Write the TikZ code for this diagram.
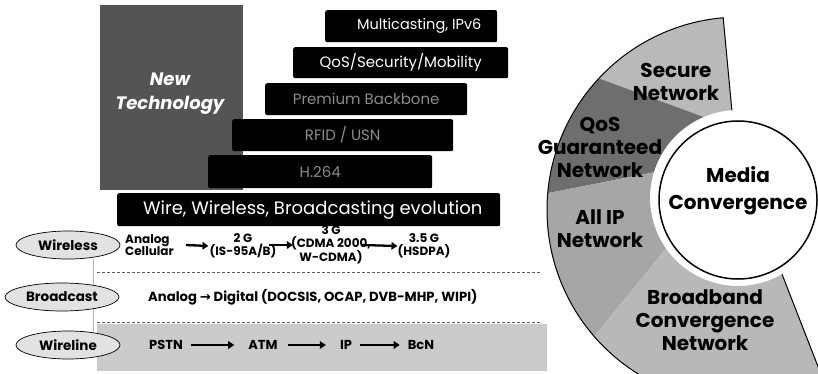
\documentclass[tikz,border=0pt]{standalone}
\usepackage{fontspec}
\setmainfont{Poppins}
\newfontfamily\arrowfont{DejaVu Sans}
\usetikzlibrary{arrows.meta,calc,shapes.geometric}

\definecolor{techgray}{HTML}{545454}
\definecolor{fadedgray}{HTML}{8C8C8C}
\definecolor{secgray}{HTML}{B9B9B9}
\definecolor{qosgray}{HTML}{6E6E6E}
\definecolor{ipgray}{HTML}{A6A6A6}
\definecolor{bcngray}{HTML}{B8B8B8}
\definecolor{bandgray}{HTML}{CBCBCB}
\definecolor{taggray}{HTML}{E2E2E2}

\begin{document}
\begin{tikzpicture}[x=1pt,y=-1pt,
  bar/.style={fill=black, rounded corners=2pt, inner sep=0pt, anchor=north west},
  bartext/.style={text=white, font=\fontsize{14.5}{16}\selectfont},
  fadedtext/.style={text=fadedgray, font=\fontsize{15}{17}\selectfont},
  tag/.style={ellipse, draw=black, line width=0.7pt, fill=taggray, minimum width=104pt,
    minimum height=28pt, inner sep=0pt, font=\bfseries\fontsize{13.5}{15}\selectfont},
  rowtext/.style={font=\bfseries\fontsize{12}{12.5}\selectfont, align=center, inner sep=0pt},
  wltext/.style={font=\bfseries\fontsize{13}{14}\selectfont, inner sep=0pt},
  evo/.style={-{Triangle[length=6pt,width=7.5pt]}, line width=2.3pt},
  sep/.style={draw=gray!70!black, line width=0.7pt, dash pattern=on 3pt off 2pt},
  ringtext/.style={font=\bfseries\fontsize{20}{23}\selectfont, align=center, inner sep=0pt},
  ringedge/.style={draw=black, line width=1pt},
]
\useasboundingbox (0,0) rectangle (818,374);
\clip (0,0) rectangle (818,374);

% ---- new technology block and stacked bars ----
\node[fill=techgray, minimum width=143pt, minimum height=185pt, anchor=north west, inner sep=0pt]
  (tech) at (100,5) {};
\node[text=white, font=\bfseries\itshape\fontsize{18}{24}\selectfont, align=center]
  (techlbl) at (170,94) {New\\Technology};

\node[bar, minimum width=172pt, minimum height=32pt] (mcast) at (325,10) {};
\node[bartext] (mcastlbl) at ([xshift=8pt]mcast.center) {Multicasting, IPv6};
\node[bar, minimum width=215pt, minimum height=31pt] (qos) at (293,47) {};
\node[bartext, font=\fontsize{15}{16}\selectfont] (qoslbl) at (qos.center) {QoS/Security/Mobility};
\node[bar, minimum width=202pt, minimum height=32pt] (prem) at (265,83) {};
\node[fadedtext] (premlbl) at (prem.center) {Premium Backbone};
\node[bar, minimum width=221pt, minimum height=32pt] (rfid) at (232,119) {};
\node[fadedtext] (rfidlbl) at (rfid.center) {RFID / USN};
\node[bar, minimum width=224pt, minimum height=33pt] (h264) at (208,155) {};
\node[fadedtext] (h264lbl) at (h264.center) {H.264};
\node[bar, minimum width=383pt, minimum height=33pt] (wire) at (117,193) {};
\node[bartext, font=\fontsize{18}{20}\selectfont] (wirelbl) at ([xshift=4pt]wire.center) {Wire, Wireless, Broadcasting evolution};

% ---- evolution table ----
\fill[bandgray] (97,324) rectangle (547,371);
\coordinate (sepA1) at (97,272);  \coordinate (sepA2) at (540,272);
\coordinate (sepB1) at (97,322);  \coordinate (sepB2) at (540,322);
\draw[sep] (sepA1) -- (sepA2);
\draw[sep] (sepB1) -- (sepB2);

\node[tag] (wireless) at (68,245) {Wireless};
\node[tag] (wireline) at (68,345) {Wireline};
\draw[gray!60, line width=0.6pt] ([xshift=25pt]wireless.south) -- ([xshift=25pt]wireline.north);
\node[tag, minimum width=114pt] (broadcast) at (62,297) {Broadcast};

% wireless row
\node[rowtext, align=left, anchor=west] (analog) at (125,245) {Analog\\Cellular};
\node[rowtext] (twog) at (243,246) {2 G\\(IS-95A/B)};
\node[rowtext] (threeg) at (331,245) {3 G\\(CDMA 2000,\\W-CDMA)};
\node[rowtext] (threefiveg) at (424,246) {3.5 G\\(HSDPA)};
\draw[evo] ([xshift=12pt]analog.east) -- ([xshift=-1pt]twog.west);
\draw[evo] ([xshift=-8pt]twog.east |- threeg.west) -- ([xshift=2pt]threeg.west);
\draw[evo] ([xshift=-10pt]threeg.east) -- (threefiveg.west);

% broadcast row
\node[rowtext, anchor=west, font=\bfseries\fontsize{13.2}{14}\selectfont] (digital) at (148,297)
  {Analog {\arrowfont\bfseries →} Digital (DOCSIS, OCAP, DVB-MHP, WIPI)};

% wireline row
\node[wltext] (pstn) at (166,345) {PSTN};
\node[wltext] (atm) at (263,345) {ATM};
\node[wltext] (ip) at (346,345) {IP};
\node[wltext] (bcn) at (421,345) {BcN};
\draw[evo] ([xshift=8pt]pstn.east) -- ([xshift=-14pt]atm.west);
\draw[evo] ([xshift=10pt]atm.east) -- ([xshift=-14pt]ip.west);
\draw[evo] ([xshift=8pt]ip.east) -- ([xshift=-8pt]bcn.west);

% ---- convergence ring ----
\coordinate (oc) at (740,210);
\coordinate (ic) at (738,198);
\fill[secgray] ([shift={(oc)}]-95:193) arc[start angle=-95, end angle=-137, radius=193]
  -- ([shift={(ic)}]-113:88) arc[start angle=-113, end angle=-94, radius=88] -- cycle;
\fill[qosgray] ([shift={(oc)}]-137:193) arc[start angle=-137, end angle=-175, radius=193]
  -- ([shift={(ic)}]-163:88) arc[start angle=-163, end angle=-113, radius=88] -- cycle;
\fill[ipgray] ([shift={(oc)}]-175:193) arc[start angle=-175, end angle=-221, radius=193]
  -- ([shift={(ic)}]-215:88) arc[start angle=-215, end angle=-163, radius=88] -- cycle;
\fill[bcngray] ([shift={(oc)}]-221:193) arc[start angle=-221, end angle=-296, radius=193]
  -- ([shift={(ic)}]-300:88) arc[start angle=-300, end angle=-215, radius=88] -- cycle;
\draw[ringedge] ([shift={(ic)}]-94:88) -- ([shift={(oc)}]-95:193)
  arc[start angle=-95, end angle=-296, radius=193] -- ([shift={(ic)}]-300:88);

\node[ringtext] (secure) at (676,82) {Secure\\Network};
\node[ringtext] (qosnet) at (600,147) {QoS\\Guaranteed\\Network};
\node[ringtext] (allip) at (600,229) {All IP\\Network};
\node[ringtext] (bcnnet) at (705,320) {Broadband\\Convergence\\Network};

\node[circle, draw=black, line width=1.5pt, fill=white, minimum size=158pt, inner sep=0pt]
  (media) at (738,200) {};
\node[ringtext, font=\bfseries\fontsize{20}{27}\selectfont] (medialbl) at (738,191) {Media\\Convergence};
\end{tikzpicture}
\end{document}
